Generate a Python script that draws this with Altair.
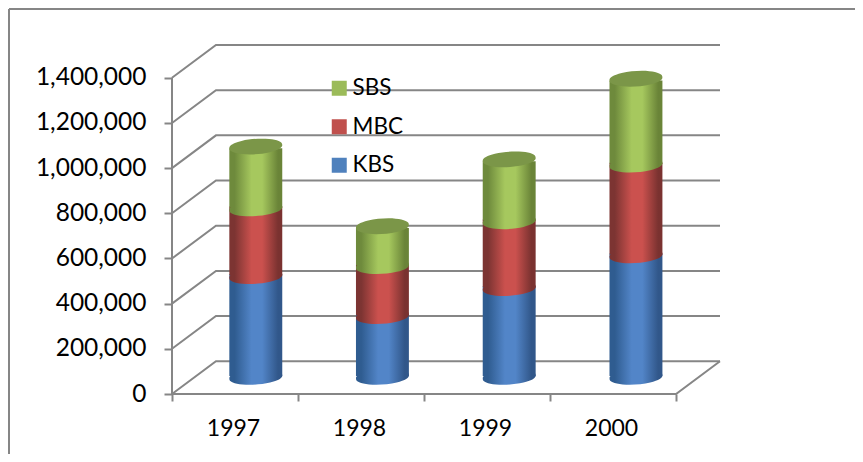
import json
import altair as alt
import pandas as pd

YEARS = ["1997", "1998", "1999", "2000"]
KBS = [446000, 269000, 393000, 538000]
MBC = [300000, 221000, 296000, 402000]
SBS = [274000, 177000, 274000, 380000]
BAR_X = [0.665, 1.67, 2.676, 3.682]
TICKS = [0, 200000, 400000, 600000, 800000, 1000000, 1200000, 1400000]

GRAY = "#868686"
FONT = "Lato"
DX, DY = 0.349, 145000      # oblique depth of the 3D box, in data units
HALF = 0.21                 # half a cylinder's width, in category units
BASE = 75600
INSET_TOP = 8000
INSET_BOTTOM = 4000
XMAX, YMAX = 4 + DX, 1400000 + DY
ELLIPSE = "M-0.995,0.07A1,0.27,-4,1,1,0.995,-0.07A1,0.27,-4,1,1,-0.995,0.07Z"
SIZE = 2809

def grad(edge1, mid, edge2):
    return {"gradient": "linear", "x1": 0, "x2": 1, "y1": 0, "y2": 0,
            "stops": [{"offset": 0, "color": edge1},
                      {"offset": 0.1, "color": edge1},
                      {"offset": 0.42, "color": mid},
                      {"offset": 0.62, "color": mid},
                      {"offset": 0.92, "color": edge2},
                      {"offset": 1, "color": edge2}]}

FILLS = {"KBS": grad("#2f5c90", "#5285c8", "#31578a"),
         "MBC": grad("#7c3432", "#cb514e", "#7a3230"),
         "SBS": grad("#6e8a3c", "#a6c85e", "#6a8438")}
FLAT = {"SBS": "#9bbb59", "MBC": "#c0504d", "KBS": "#4f81bd"}
LID = "#7b9648"

xs = alt.Scale(domain=[0, XMAX], nice=False, zero=False)
ys = alt.Scale(domain=[0, YMAX], nice=False, zero=False)
X = alt.X("x:Q", scale=xs, title=None)
Y = alt.Y("y:Q", scale=ys, title=None)

# box lines
rows = []
def polyline(name, pts):
    for k, (px, py) in enumerate(pts):
        rows.append({"g": name, "k": k, "x": px, "y": py})
for t in TICKS:
    polyline(f"g{t}", [(0, t), (DX, t + DY), (4 + DX, t + DY)])
polyline("left", [(0, 0), (0, TICKS[-1])])
polyline("front", [(0, 0), (4, 0), (4 + DX, DY)])
box = alt.Chart(pd.DataFrame(rows)).mark_line(color=GRAY, strokeWidth=2, clip=False).encode(
    x=X, y=Y, detail="g:N", order="k:Q")

# axes
axis_data = pd.DataFrame({"x": [0.0], "y": [0.0]})
label_expr = "%s[datum.value]" % json.dumps(YEARS + [""])
axes = alt.Chart(axis_data).mark_point(opacity=0).encode(
    x=alt.X("x:Q", scale=xs, title=None, axis=alt.Axis(
        values=[0, 1, 2, 3, 4], labelExpr=label_expr, labelOffset=61, labelOverlap=False,
        labelFlush=False, labelBound=False,
        domain=False, grid=False, tickColor=GRAY, tickWidth=2, tickSize=7, labelPadding=16,
        labelFont=FONT, labelFontSize=23, labelColor="#000000", labelAngle=0)),
    y=alt.Y("y:Q", scale=ys, title=None, axis=alt.Axis(
        values=TICKS, labelExpr="format(datum.value, ',')", domain=False, grid=False,
        tickColor=GRAY, tickWidth=2,
        tickSize=8, labelPadding=18, labelFont=FONT, labelFontSize=24.5, labelColor="#000000",
        labelOverlap=False, labelBound=False)),
)

# frame (top and left only: the picture is cropped on the other sides)
frame = [
    alt.Chart(axis_data).mark_rule(color=GRAY, strokeWidth=2, clip=False).encode(
        x=alt.value(-163), x2=alt.value(683), y=alt.value(-36)),
    alt.Chart(axis_data).mark_rule(color=GRAY, strokeWidth=2, clip=False).encode(
        x=alt.value(-163), y=alt.value(-36), y2=alt.value(409)),
]

# cylinders
layers = []
stack = [0, 0, 0, 0]
for name, vals in [("KBS", KBS), ("MBC", MBC), ("SBS", SBS)]:
    recs = []
    for i, v in enumerate(vals):
        cx = BAR_X[i]
        lo = stack[i] + BASE
        hi = lo + v
        stack[i] += v
        recs.append({"year": YEARS[i], "series": name, "value": v, "x": cx - HALF, "x2": cx + HALF,
                     "cx": cx, "lo": lo, "lo2": lo + INSET_BOTTOM,
                     "hi": hi - INSET_TOP if name == "SBS" else hi + INSET_TOP, "top": hi})
    d = pd.DataFrame(recs)
    layers.append(alt.Chart(d).mark_rect(fill=FILLS[name], stroke=None).encode(
        x=X, x2="x2:Q", y=alt.Y("lo2:Q", scale=ys, title=None), y2="hi:Q"))
    layers.append(alt.Chart(d).mark_point(shape=ELLIPSE, size=SIZE, filled=True, fill=FILLS[name],
                                          stroke=None, opacity=1).encode(
        x=alt.X("cx:Q", scale=xs, title=None), y=alt.Y("lo:Q", scale=ys, title=None)))
    if name == "SBS":
        layers.append(alt.Chart(d).mark_point(shape=ELLIPSE, size=SIZE, filled=True, fill=LID,
                                              stroke=None, opacity=1).encode(
            x=alt.X("cx:Q", scale=xs, title=None), y=alt.Y("top:Q", scale=ys, title=None)))

# legend
order = ["SBS", "MBC", "KBS"]
legend = alt.Chart(pd.DataFrame({"series": order, "x": [0.0] * 3, "y": [0.0] * 3})).mark_square(
    size=0, filled=True).encode(
    x=X, y=Y,
    color=alt.Color("series:N", scale=alt.Scale(domain=order, range=[FLAT[s] for s in order]),
                    legend=alt.Legend(orient="none", legendX=156, legendY=32, title=None,
                                      symbolType="square", symbolSize=225, symbolOpacity=1,
                                      symbolStrokeWidth=0,
                                      labelFont=FONT, labelFontSize=22.5, labelColor="#000000",
                                      labelOffset=2, rowPadding=15.5, labelLimit=100)))

chart = alt.layer(axes, *frame, box, *layers, legend).properties(
    width=548, height=349,
    padding={"left": 164, "top": 37, "right": 135, "bottom": 60},
    autosize=alt.AutoSizeParams(type="none"),
    background="#ffffff",
).configure_view(stroke=None)

chart.save("out.html", embed_options={"renderer": "svg", "actions": False})
